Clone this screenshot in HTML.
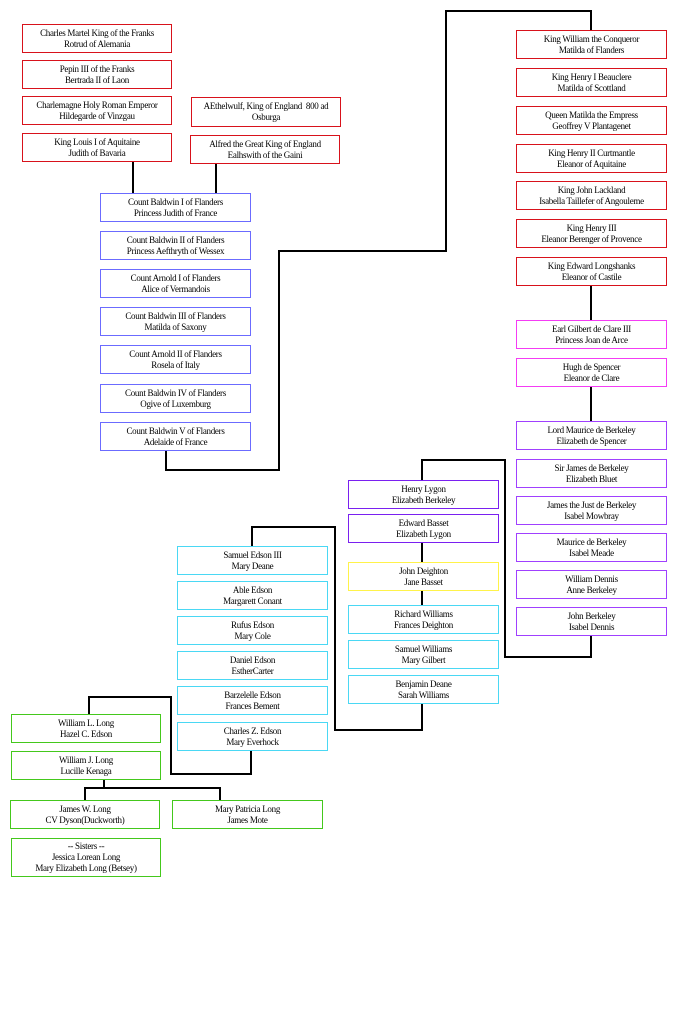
<!DOCTYPE html>
<html><head><meta charset="utf-8"><style>
body{margin:0;width:700px;height:1024px;background:#fff;position:relative;overflow:hidden;font-family:"Liberation Serif",serif;}
.b{position:absolute;box-sizing:border-box;border:1.5px solid;background:#fff;font-size:9px;line-height:11px;text-align:center;display:flex;flex-direction:column;justify-content:center;color:#000;letter-spacing:-0.3px}
.r{border-color:#d8121b}.bl{border-color:#6b6bff}.p{border-color:#f43cf4}.pu{border-color:#a040ff}.pv{border-color:#7a20f0}.y{border-color:#fff34a}.c{border-color:#4ad8f4}.g{border-color:#44c81c}
svg{position:absolute;left:0;top:0}
</style></head><body>
<svg width="700" height="1024" fill="none" stroke="#000" stroke-width="2">
<path d="M133 162V193M216 164V193"/>
<path d="M166 451V470H279V251H446V11H591V30"/>
<path d="M591 286V320M591 387V421"/>
<path d="M591 636V657H505V460H422V480"/>
<path d="M422 543V562M422 591V605"/>
<path d="M422 704V730H335V527H252V546"/>
<path d="M251 751V774H171V697H89V714"/>
<path d="M104 780V788M85 800V788H220V800"/>
</svg>
<div class="b r" style="left:22px;top:24px;width:150px;height:29px">Charles Martel King of the Franks<br>Rotrud of Alemania</div>
<div class="b r" style="left:22px;top:60px;width:150px;height:29px">Pepin III of the Franks<br>Bertrada II of Laon</div>
<div class="b r" style="left:22px;top:96px;width:150px;height:29px">Charlemagne Holy Roman Emperor<br>Hildegarde of Vinzgau</div>
<div class="b r" style="left:22px;top:133px;width:150px;height:29px">King Louis I of Aquitaine<br>Judith of Bavaria</div>
<div class="b r" style="left:191px;top:97px;width:150px;height:30px">AEthelwulf, King of England&nbsp; 800 ad<br>Osburga</div>
<div class="b r" style="left:190px;top:135px;width:150px;height:29px">Alfred the Great King of England<br>Ealhswith of the Gaini</div>

<div class="b bl" style="left:100px;top:193px;width:151px;height:29px">Count Baldwin I of Flanders<br>Princess Judith of France</div>
<div class="b bl" style="left:100px;top:231px;width:151px;height:29px">Count Baldwin II of Flanders<br>Princess Aefthryth of Wessex</div>
<div class="b bl" style="left:100px;top:269px;width:151px;height:29px">Count Arnold I of Flanders<br>Alice of Vermandois</div>
<div class="b bl" style="left:100px;top:307px;width:151px;height:29px">Count Baldwin III of Flanders<br>Matilda of Saxony</div>
<div class="b bl" style="left:100px;top:345px;width:151px;height:29px">Count Arnold II of Flanders<br>Rosela of Italy</div>
<div class="b bl" style="left:100px;top:384px;width:151px;height:29px">Count Baldwin IV of Flanders<br>Ogive of Luxemburg</div>
<div class="b bl" style="left:100px;top:422px;width:151px;height:29px">Count Baldwin V of Flanders<br>Adelaide of France</div>

<div class="b r" style="left:516px;top:30px;width:151px;height:29px">King William the Conqueror<br>Matilda of Flanders</div>
<div class="b r" style="left:516px;top:68px;width:151px;height:29px">King Henry I Beauclere<br>Matilda of Scottland</div>
<div class="b r" style="left:516px;top:106px;width:151px;height:29px">Queen Matilda the Empress<br>Geoffrey V Plantagenet</div>
<div class="b r" style="left:516px;top:144px;width:151px;height:29px">King Henry II Curtmantle<br>Eleanor of Aquitaine</div>
<div class="b r" style="left:516px;top:181px;width:151px;height:29px">King John Lackland<br>Isabella Taillefer of Angouleme</div>
<div class="b r" style="left:516px;top:219px;width:151px;height:29px">King Henry III<br>Eleanor Berenger of Provence</div>
<div class="b r" style="left:516px;top:257px;width:151px;height:29px">King Edward Longshanks<br>Eleanor of Castile</div>
<div class="b p" style="left:516px;top:320px;width:151px;height:29px">Earl Gilbert de Clare III<br>Princess Joan de Arce</div>
<div class="b p" style="left:516px;top:358px;width:151px;height:29px">Hugh de Spencer<br>Eleanor de Clare</div>
<div class="b pu" style="left:516px;top:421px;width:151px;height:29px">Lord Maurice de Berkeley<br>Elizabeth de Spencer</div>
<div class="b pu" style="left:516px;top:459px;width:151px;height:29px">Sir James de Berkeley<br>Elizabeth Bluet</div>
<div class="b pu" style="left:516px;top:496px;width:151px;height:29px">James the Just de Berkeley<br>Isabel Mowbray</div>
<div class="b pu" style="left:516px;top:533px;width:151px;height:29px">Maurice de Berkeley<br>Isabel Meade</div>
<div class="b pu" style="left:516px;top:570px;width:151px;height:29px">William Dennis<br>Anne Berkeley</div>
<div class="b pu" style="left:516px;top:607px;width:151px;height:29px">John Berkeley<br>Isabel Dennis</div>

<div class="b pv" style="left:348px;top:480px;width:151px;height:29px">Henry Lygon<br>Elizabeth Berkeley</div>
<div class="b pv" style="left:348px;top:514px;width:151px;height:29px">Edward Basset<br>Elizabeth Lygon</div>
<div class="b y" style="left:348px;top:562px;width:151px;height:29px">John Deighton<br>Jane Basset</div>
<div class="b c" style="left:348px;top:605px;width:151px;height:29px">Richard Williams<br>Frances Deighton</div>
<div class="b c" style="left:348px;top:640px;width:151px;height:29px">Samuel Williams<br>Mary Gilbert</div>
<div class="b c" style="left:348px;top:675px;width:151px;height:29px">Benjamin Deane<br>Sarah Williams</div>

<div class="b c" style="left:177px;top:546px;width:151px;height:29px">Samuel Edson III<br>Mary Deane</div>
<div class="b c" style="left:177px;top:581px;width:151px;height:29px">Able Edson<br>Margarett Conant</div>
<div class="b c" style="left:177px;top:616px;width:151px;height:29px">Rufus Edson<br>Mary Cole</div>
<div class="b c" style="left:177px;top:651px;width:151px;height:29px">Daniel Edson<br>EstherCarter</div>
<div class="b c" style="left:177px;top:686px;width:151px;height:29px">Barzelelle Edson<br>Frances Bement</div>
<div class="b c" style="left:177px;top:722px;width:151px;height:29px">Charles Z. Edson<br>Mary Everhock</div>

<div class="b g" style="left:11px;top:714px;width:150px;height:29px">William L. Long<br>Hazel C. Edson</div>
<div class="b g" style="left:11px;top:751px;width:150px;height:29px">William J. Long<br>Lucille Kenaga</div>
<div class="b g" style="left:10px;top:800px;width:150px;height:29px">James W. Long<br>CV Dyson(Duckworth)</div>
<div class="b g" style="left:172px;top:800px;width:151px;height:29px">Mary Patricia Long<br>James Mote</div>
<div class="b g" style="left:11px;top:838px;width:150px;height:39px">-- Sisters --<br>Jessica Lorean Long<br>Mary Elizabeth Long (Betsey)</div>
</body></html>
